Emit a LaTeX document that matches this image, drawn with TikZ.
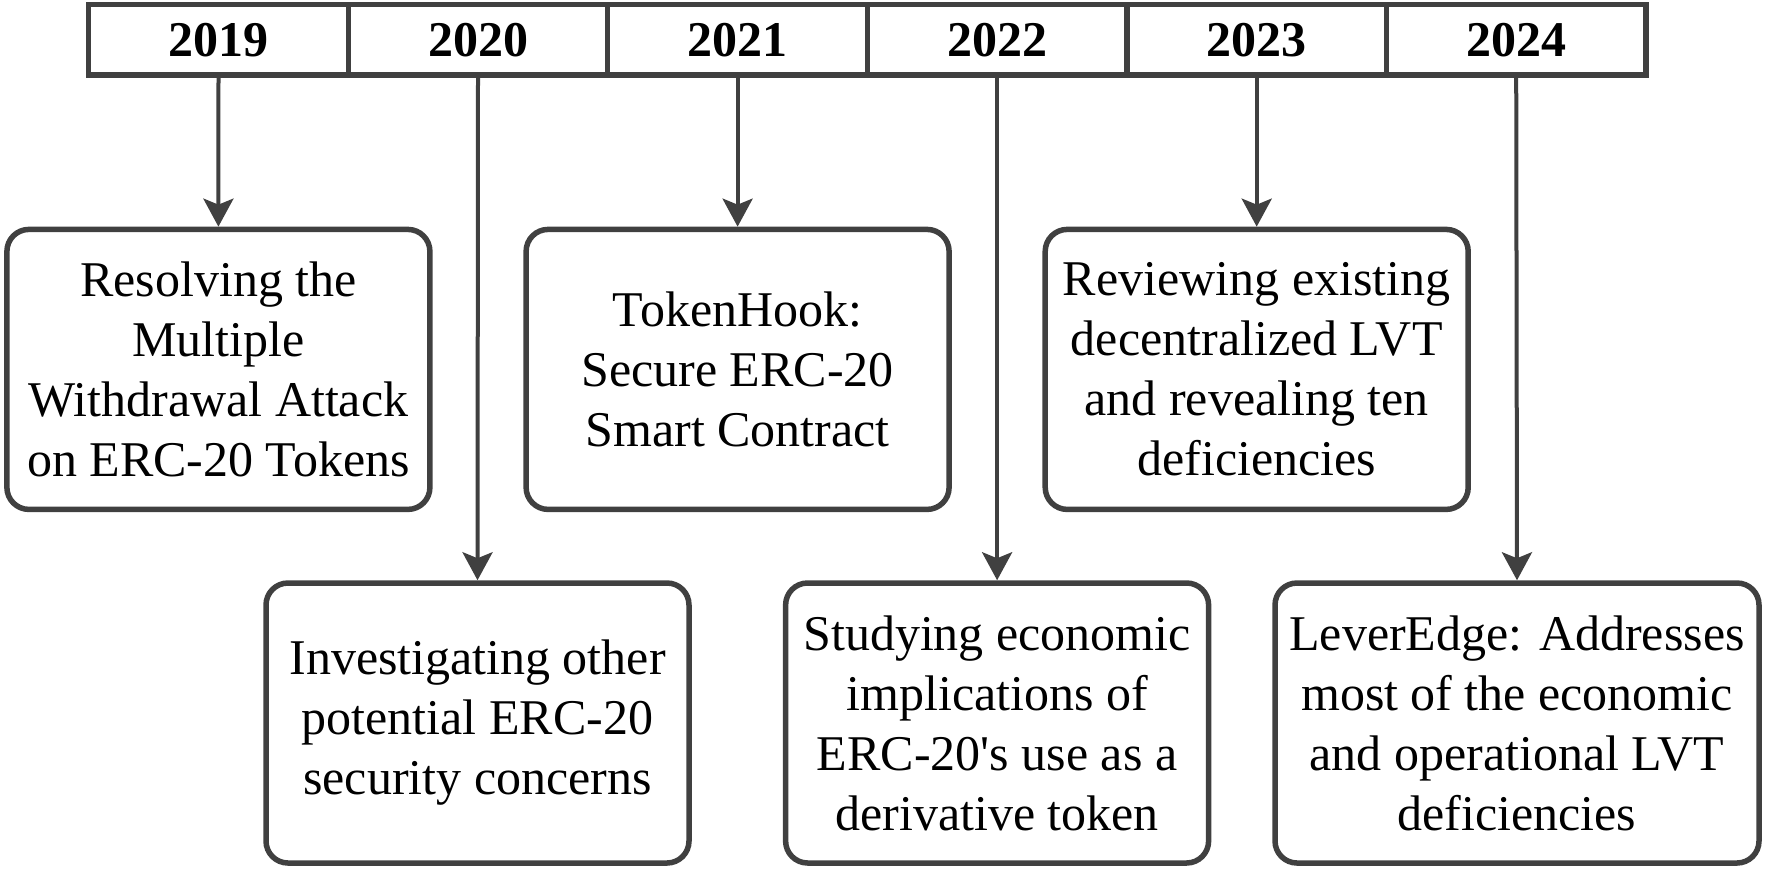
\documentclass[tikz,border=0pt]{standalone}
\usepackage{fontspec}
\setmainfont{Liberation Serif}
\usetikzlibrary{arrows.meta}
\definecolor{ln}{HTML}{404040}
\begin{document}
\begin{tikzpicture}[x=0.5pt,y=-0.5pt,
  yearcell/.style={draw=ln, line width=2.6pt, minimum width=129.8pt, minimum height=35.15pt,
    inner sep=0pt, font=\fontsize{25}{30}\selectfont\bfseries},
  tlbox/.style={draw=ln, line width=2.75pt, rounded corners=11pt, align=center,
    font=\fontsize{25}{30}\selectfont, minimum height=140pt, minimum width=211.5pt, inner sep=0pt},
  arr/.style={draw=ln, line width=2pt, -{Stealth[length=14pt, width=15pt, inset=3pt]}}]
\useasboundingbox (0,0) rectangle (1781,869);
% timeline bar
\node[yearcell] (y19) at (218.5,39.9) {2019};
\node[yearcell] (y20) at (478.0,39.9) {2020};
\node[yearcell] (y21) at (737.6,39.9) {2021};
\node[yearcell] (y22) at (997.1,39.9) {2022};
\node[yearcell] (y23) at (1256.7,39.9) {2023};
\node[yearcell] (y24) at (1516.2,39.9) {2024};
% top boxes
\node[tlbox] (b19) at (218.4,369.4) {Resolving the\\Multiple\\Withdrawal Attack\\on ERC-20 Tokens};
\node[tlbox] (b21) at (737.6,369.4) {TokenHook:\\Secure ERC-20\\Smart Contract};
\node[tlbox] (b23) at (1256.7,369.4) {Reviewing existing\\decentralized LVT\\and revealing ten\\deficiencies};
% bottom boxes
\node[tlbox] (b20) at (477.5,723) {Investigating other\\potential ERC-20\\security concerns};
\node[tlbox] (b22) at (997.1,723) {Studying economic\\implications of\\ERC-20\textquotesingle s use as a\\derivative token};
\node[tlbox, minimum width=242pt] (b24) at (1517,723) {LeverEdge: Addresses\\most of the economic\\and operational LVT\\deficiencies};
% connectors
\draw[arr] (y19.south) -- (b19.north);
\draw[arr] (y20.south) -- (b20.north);
\draw[arr] (y21.south) -- (b21.north);
\draw[arr] (y22.south) -- (b22.north);
\draw[arr] (y23.south) -- (b23.north);
\draw[arr] (y24.south) -- (b24.north);
\end{tikzpicture}
\end{document}
